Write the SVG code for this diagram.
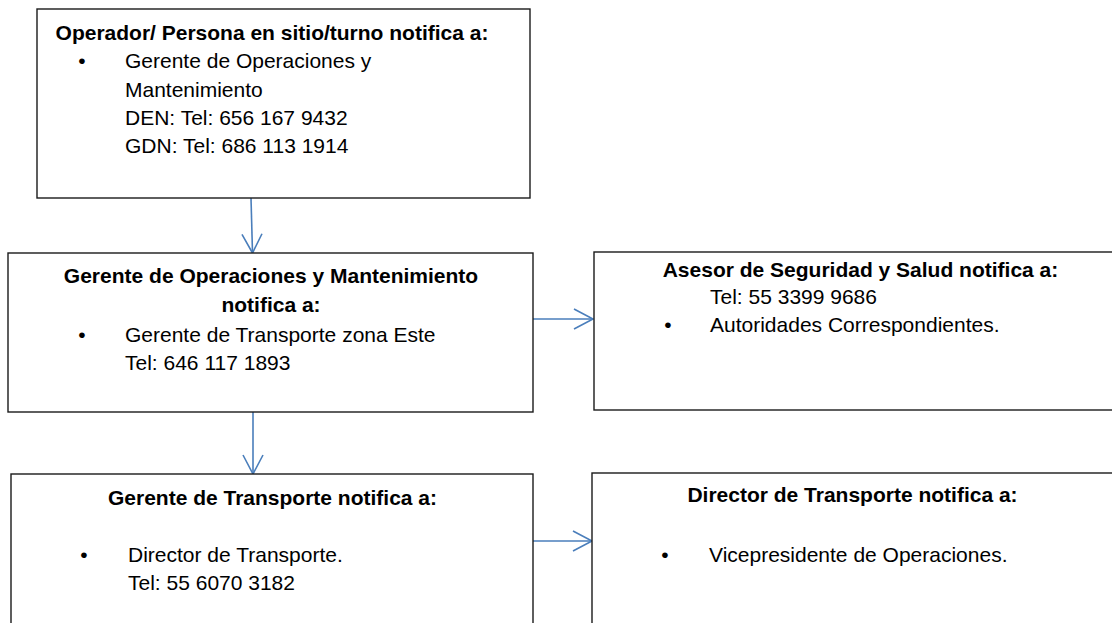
<svg xmlns="http://www.w3.org/2000/svg" width="1112" height="623" viewBox="0 0 1112 623">
<style>
  .box { fill: #ffffff; stroke: #1a1a1a; stroke-width: 1.4; }
  .t { font-family: "Liberation Sans", Arial, sans-serif; font-size: 21px; fill: #000; }
  .b { font-weight: bold; }
  .m { text-anchor: middle; }
  .conn { fill: none; stroke: #4A7EBB; stroke-width: 1.6; }
</style>
<defs>
  <marker id="open" markerUnits="userSpaceOnUse" markerWidth="24" markerHeight="24" viewBox="-22 -12 24 24" refX="0" refY="0" orient="auto">
    <path d="M -19 -10 L 0 0 L -19 10" fill="none" stroke="#4A7EBB" stroke-width="1.6"/>
  </marker>
</defs>
<rect width="1112" height="623" fill="#ffffff"/>

<g id="connectors">
  <line class="conn" x1="251" y1="198" x2="252.5" y2="253" marker-end="url(#open)"/>
  <line class="conn" x1="253" y1="412" x2="253" y2="474" marker-end="url(#open)"/>
  <line class="conn" x1="533" y1="319" x2="593" y2="319" marker-end="url(#open)"/>
  <line class="conn" x1="533" y1="541" x2="592" y2="541" marker-end="url(#open)"/>
</g>

<g id="node-operador">
  <rect class="box" x="37" y="9" width="493" height="189"/>
  <text class="t b m" x="272" y="40">Operador/ Persona en sitio/turno notifica a:</text>
  <text class="t m" x="82" y="68">•</text>
  <text class="t" x="125" y="68">Gerente de Operaciones y</text>
  <text class="t" x="125" y="97">Mantenimiento</text>
  <text class="t" x="125" y="125">DEN: Tel: 656 167 9432</text>
  <text class="t" x="125" y="153">GDN: Tel: 686 113 1914</text>
</g>

<g id="node-gerente-operaciones">
  <rect class="box" x="8" y="253" width="525" height="159"/>
  <text class="t b m" x="271" y="283">Gerente de Operaciones y Mantenimiento</text>
  <text class="t b m" x="271" y="312">notifica a:</text>
  <text class="t m" x="82" y="342">•</text>
  <text class="t" x="125" y="342">Gerente de Transporte zona Este</text>
  <text class="t" x="125" y="370">Tel: 646 117 1893</text>
</g>

<g id="node-asesor">
  <rect class="box" x="594" y="252" width="533" height="158"/>
  <text class="t b m" x="860.5" y="277">Asesor de Seguridad y Salud notifica a:</text>
  <text class="t" x="710" y="304">Tel: 55 3399 9686</text>
  <text class="t m" x="668" y="332">•</text>
  <text class="t" x="710" y="332">Autoridades Correspondientes.</text>
</g>

<g id="node-gerente-transporte">
  <rect class="box" x="11" y="474" width="522" height="170"/>
  <text class="t b m" x="272.5" y="505">Gerente de Transporte notifica a:</text>
  <text class="t m" x="84" y="562">•</text>
  <text class="t" x="128" y="562">Director de Transporte.</text>
  <text class="t" x="128" y="590">Tel: 55 6070 3182</text>
</g>

<g id="node-director">
  <rect class="box" x="592" y="473" width="530" height="170"/>
  <text class="t b m" x="852.5" y="502">Director de Transporte notifica a:</text>
  <text class="t m" x="665" y="562">•</text>
  <text class="t" x="709" y="562">Vicepresidente de Operaciones.</text>
</g>
</svg>
